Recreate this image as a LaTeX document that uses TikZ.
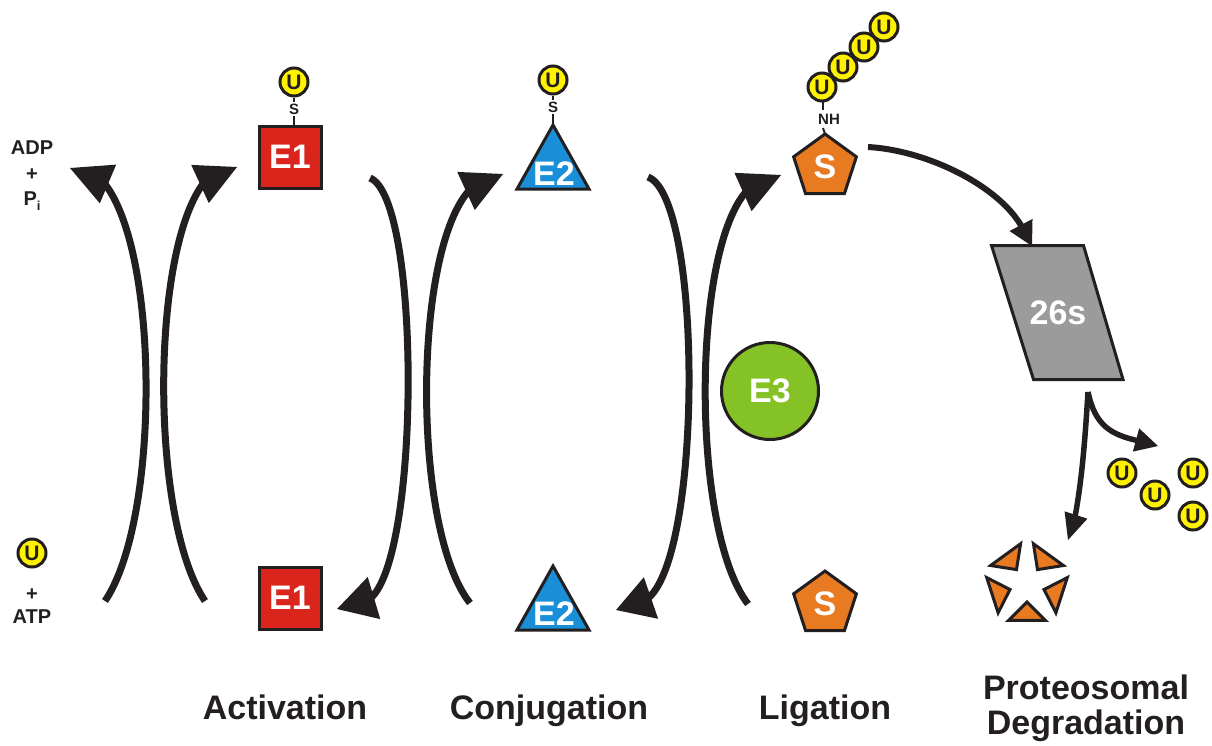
\documentclass[tikz,border=0pt]{standalone}
\usepackage{fontspec}
\setmainfont{Liberation Sans}
\usetikzlibrary{calc}
\definecolor{ink}{HTML}{231F20}
\definecolor{e1red}{HTML}{DA251D}
\definecolor{e2blue}{HTML}{1A8FD8}
\definecolor{sorange}{HTML}{E87A22}
\definecolor{ubyellow}{HTML}{FFF200}
\definecolor{e3green}{HTML}{84C225}
\definecolor{pgray}{HTML}{9B9B9B}
\newcommand\fs[1]{\fontsize{#1}{#1}\selectfont\bfseries}
% #1 width, #2 start, #3 c1, #4 c2, #5 base, #6 tip, #7 half width of head
\newcommand\curvearrow[7]{%
  \draw[shaft, line width=#1] (#2) .. controls (#3) and (#4) .. ($(#5)!5pt!(#6)$);
  \fill[ink] (#6) -- ($(#5)!#7!90:(#6)$) -- ($(#5)!#7!-90:(#6)$) -- cycle;}
\begin{document}
\begin{tikzpicture}[x=1pt,y=-1pt,
  ubead/.style={circle, draw=ink, line width=3pt, fill=ubyellow, minimum size=28pt, inner sep=0pt, font=\fs{21}, text=ink},
  ebox/.style={draw=ink, line width=3pt, fill=e1red, minimum width=62pt, minimum height=62pt, inner sep=0pt, font=\fs{34}, text=white},
  tri/.style={draw=ink, line width=3pt, fill=e2blue, line join=miter},
  pent/.style={draw=ink, line width=3pt, fill=sorange, line join=miter},
  etxt/.style={font=\fs{34}, text=white, inner sep=0pt},
  lbl/.style={font=\fs{20}, text=ink, inner sep=0pt},
  big/.style={font=\fs{34}, text=ink, inner sep=0pt, anchor=base},
  stxt/.style={font=\fs{15}, text=ink, inner sep=1.5pt},
  stem/.style={draw=ink, line width=2pt},
  shaft/.style={draw=ink, line cap=butt}]
\fill[white] (0,0) rectangle (1212,745);
\useasboundingbox (0,0) rectangle (1212,745);

% ---- side labels
\node[lbl, anchor=base] (adp) at (32,154) {ADP};
\node[lbl] (plus1) at (32,175) {+};
\node[lbl, anchor=base] (pi) at (32,205) {P\raisebox{-5pt}{\fs{13}i}};
\node[ubead] (Uatp) at (32,553) {U};
\node[lbl] (plus2) at (32,595) {+};
\node[lbl, anchor=base] (atp) at (32,623) {ATP};

% ---- E1
\node[ebox] (E1t) at (290,157) {E1};
\node[ubead] (U1) at (294,82) {U};
\node[stxt] (S1) at (294,109) {S};
\draw[stem] (U1.south) -- (S1.north);
\draw[stem] (S1.south) -- (S1.south |- E1t.north);
\node[ebox] (E1b) at (290,598) {E1};

% ---- E2
\draw[tri] (553,125) -- (589,189) -- (517,189) -- cycle;
\node[etxt] (E2t) at (554,174) {E2};
\node[ubead] (U2) at (553,80) {U};
\node[stxt] (S2) at (553,107) {S};
\draw[stem] (U2.south) -- (S2.north);
\draw[stem] (S2.south) -- (553,125);
\draw[tri] (553,566) -- (589,630) -- (517,630) -- cycle;
\node[etxt] (E2b) at (554,614) {E2};

% ---- substrate
\draw[pent, shift={(825,167)}] (-90:33) -- (-18:33) -- (54:33) -- (126:33) -- (198:33) -- cycle;
\node[etxt] (Sub) at (825,167) {S};
\node[stxt] (NH) at (829,119) {NH};
\node[ubead] (U4) at (884,27) {U};
\node[ubead] (U3) at (864,47) {U};
\node[ubead] (U2c) at (843,67) {U};
\node[ubead] (U1c) at (822,87) {U};
\draw[stem] (823,101) -- (823,110);
\draw[stem] (823,128) -- (825,134);
\draw[pent, shift={(825,604)}] (-90:33) -- (-18:33) -- (54:33) -- (126:33) -- (198:33) -- cycle;
\node[etxt] (Subb) at (825,604) {S};

% ---- E3
\node[circle, draw=ink, line width=3pt, fill=e3green, minimum size=97pt, inner sep=0pt, font=\fs{34}, text=white] (E3) at (770,391) {E3};

% ---- 26s proteasome
\draw[draw=ink, line width=3pt, fill=pgray, line join=miter] (991.5,245.5) -- (1083.5,245.5) -- (1123,379.5) -- (1033.5,379.5) -- cycle;
\node[etxt] (P26) at (1058,313) {26s};

% ---- free ubiquitins
\node[ubead] (F1) at (1122,473) {U};
\node[ubead] (F2) at (1155,495) {U};
\node[ubead] (F3) at (1193,473) {U};
\node[ubead] (F4) at (1193,516) {U};

% ---- degraded substrate
\draw[pent] (1063.4,565.5) -- (1033.4,543.7) -- (1037.5,569.6) -- cycle;
\draw[pent] (1055.9,612.8) -- (1067.3,577.6) -- (1044.0,589.5) -- cycle;
\draw[pent] (1008.5,620.4) -- (1045.5,620.4) -- (1027,601.9) -- cycle;
\draw[pent] (986.7,577.6) -- (998.1,612.8) -- (1010.0,589.5) -- cycle;
\draw[pent] (1020.6,543.7) -- (990.6,565.5) -- (1016.5,569.6) -- cycle;

% ---- arrow end points
\coordinate (A0) at (105,601); \coordinate (Ab) at (108,184); \coordinate (At) at (70,168);
\coordinate (B0) at (205,601); \coordinate (Bb) at (200,184); \coordinate (Bt) at (237,167);
\coordinate (C0) at (370,178); \coordinate (Cb) at (374,598); \coordinate (Ct) at (337,609);
\coordinate (D0) at (470,603); \coordinate (Db) at (466,191); \coordinate (Dt) at (503,174);
\coordinate (E0) at (648,177); \coordinate (Eb) at (651,598); \coordinate (Et) at (616,610);
\coordinate (F0) at (748,604); \coordinate (Fb) at (743,192); \coordinate (Ft) at (781,175);
\coordinate (G0) at (868,147); \coordinate (Gb) at (1021,225); \coordinate (Gt) at (1032,246);
\coordinate (H0) at (1088,392); \coordinate (Hb) at (1136,440); \coordinate (Ht) at (1158,446);
\coordinate (I0) at (1088,392); \coordinate (Ib) at (1076,515); \coordinate (It) at (1068,540);

\curvearrow{7pt}{A0}{160,520}{160,250}{Ab}{At}{21pt}
\curvearrow{7pt}{B0}{150,520}{150,250}{Bb}{Bt}{21pt}
\curvearrow{7pt}{C0}{421,198}{421,560}{Cb}{Ct}{22pt}
\curvearrow{7pt}{D0}{412,530}{412,250}{Db}{Dt}{21pt}
\curvearrow{7pt}{E0}{703,198}{703,560}{Eb}{Et}{22pt}
\curvearrow{7pt}{F0}{691,530}{691,250}{Fb}{Ft}{21pt}
\curvearrow{6pt}{G0}{925,150}{1000,185}{Gb}{Gt}{13pt}
\curvearrow{5.5pt}{H0}{1095,425}{1110,435}{Hb}{Ht}{12pt}
\curvearrow{5.5pt}{I0}{1085,440}{1082,480}{Ib}{It}{12pt}

% ---- stage labels
\node[big] (act) at (285,719) {Activation};
\node[big] (conj) at (549,719) {Conjugation};
\node[big] (lig) at (825,719) {Ligation};
\node[big] (prot) at (1086,699) {Proteosomal};
\node[big] (degr) at (1086,734) {Degradation};
\end{tikzpicture}
\end{document}
